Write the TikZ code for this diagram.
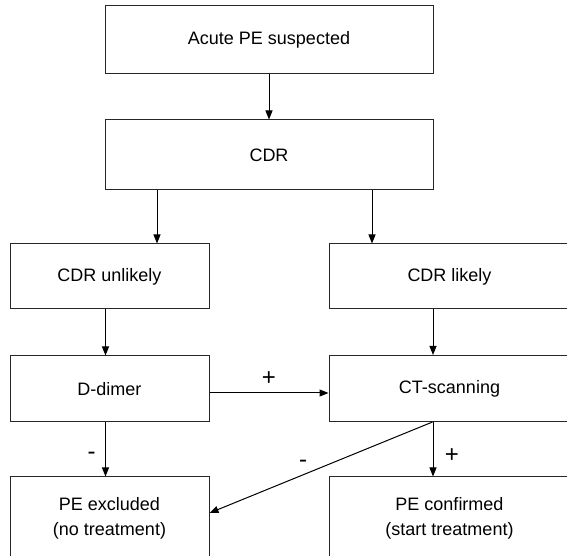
\documentclass[tikz,border=0pt]{standalone}
\usepackage{fontspec}
\setmainfont{Liberation Sans}
\usepackage{tikz}
\usetikzlibrary{positioning,arrows.meta}

\begin{document}
\begin{tikzpicture}[
  x=1pt, y=1pt,
  box/.style={draw=black!85, line width=1pt, minimum height=66pt, align=center, font=\fontsize{18}{25}\selectfont, inner sep=0pt},
  widebox/.style={box, minimum width=328pt},
  leftbox/.style={box, minimum width=199pt},
  rightbox/.style={box, minimum width=241pt},
  lbl/.style={font=\fontsize{24}{24}\selectfont, inner sep=0pt},
  arrow/.style={-{Triangle[length=9pt, width=7pt]}, line width=1pt}
]
  \useasboundingbox (0,0) rectangle (567,556);
  % top part
  \node[widebox, minimum height=68pt] (suspect) at (269,516) {Acute PE suspected};
  \node[widebox, minimum height=70pt] (cdr) at (269,401) {CDR};
  % two branches
  \node[leftbox, minimum height=65pt] (unlikely) at (109.5,279.5) {CDR unlikely};
  \node[rightbox, minimum height=65pt] (likely) at (449.5,279.5) {CDR likely};
  \node[leftbox] (ddimer) at (109.5,167) {D-dimer};
  \node[rightbox] (ctscan) at (449.5,167.5) {CT-scanning};
  \node[leftbox, minimum height=82pt] (excluded) at (109.5,38) {PE excluded\\(no treatment)};
  \node[rightbox, minimum height=82pt] (confirmed) at (449.5,38) {PE confirmed\\(start treatment)};
  \draw[arrow] (suspect) -- (cdr);
  \draw[arrow] ([xshift=-112pt]cdr.south) -- ([xshift=-112pt]cdr.south |- unlikely.north);
  \draw[arrow] ([xshift=103pt]cdr.south) -- ([xshift=103pt]cdr.south |- likely.north);
  \draw[arrow] ([xshift=-4pt]unlikely.south) -- ([xshift=-4pt]ddimer.north);
  \draw[arrow] ([xshift=-16.5pt]likely.south) -- ([xshift=-16.5pt]ctscan.north);
  \draw[arrow] ([yshift=-4pt]ddimer.east) -- node[lbl, yshift=14pt] (plus1) {+} ([yshift=-4pt]ddimer.east -| ctscan.west);
  \draw[arrow] ([xshift=-4pt]ddimer.south) -- node[lbl, xshift=-14pt, yshift=-6pt] (minus1) {-} ([xshift=-4pt]ddimer.south |- excluded.north);
  \draw[arrow] ([xshift=-16.5pt]ctscan.south) -- node[lbl, xshift=19pt, yshift=-6pt] (plus2) {+} ([xshift=-16.5pt]ctscan.south |- confirmed.north);
  \draw[arrow] ([xshift=-17pt]ctscan.south) -- node[lbl, xshift=-18pt, yshift=4pt] (minus2) {-} ([yshift=5pt]excluded.east);
\end{tikzpicture}
\end{document}
